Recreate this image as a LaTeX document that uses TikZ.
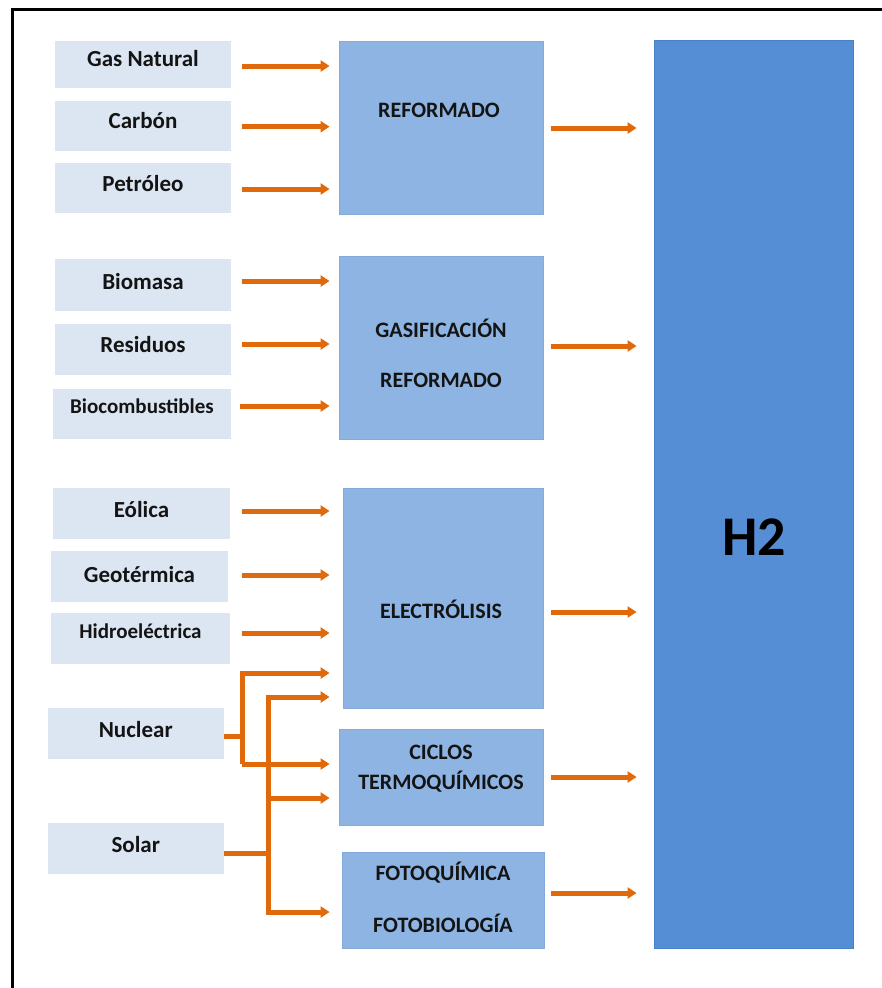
\documentclass[tikz,border=0pt]{standalone}
\usepackage{fontspec}
\setmainfont{Carlito}
\usetikzlibrary{arrows.meta}
\definecolor{srcfill}{HTML}{DCE6F2}
\definecolor{midfill}{HTML}{8EB4E3}
\definecolor{midedge}{HTML}{84AADB}
\definecolor{hfill}{HTML}{558ED5}
\definecolor{hedge}{HTML}{4A80C8}
\definecolor{orng}{HTML}{E2690A}
\definecolor{ink}{HTML}{141414}
\tikzset{
  srcbox/.style={rectangle, fill=srcfill, draw=none, inner sep=0pt},
  midbox/.style={rectangle, fill=midfill, draw=midedge, line width=0.8pt, inner sep=0pt},
  hbox/.style={rectangle, fill=hfill, draw=hedge, line width=0.8pt, inner sep=0pt},
  lbl/.style={anchor=base, inner sep=0pt, text=ink, font=\fontsize{22}{26}\selectfont\bfseries},
  lblsrc/.style={anchor=base, inner sep=0pt, text=ink, font=\fontsize{23}{27}\selectfont\bfseries},
  lblsm/.style={anchor=base, inner sep=0pt, text=ink, font=\fontsize{21}{24}\selectfont\bfseries},
  ln/.style={draw=orng, line width=5pt, line join=miter},
  arr/.style={ln, -{Triangle[length=9pt,width=11pt]}},
}
\begin{document}
\begin{tikzpicture}[x=1pt,y=-1pt]
\useasboundingbox (0,0) rectangle (881,988);
% frame
\draw[line width=3pt, black] (12,1010) -- (12,9) -- (900,9);

% source boxes
\node[srcbox, minimum width=176pt, minimum height=47pt] (gas)   at (143,64.5) {};
\node[srcbox, minimum width=176pt, minimum height=50pt] (carb)  at (143,126) {};
\node[srcbox, minimum width=176pt, minimum height=50pt] (petr)  at (143,188) {};
\node[srcbox, minimum width=176pt, minimum height=52pt] (biom)  at (143,285) {};
\node[srcbox, minimum width=176pt, minimum height=51pt] (resid) at (143,349.5) {};
\node[srcbox, minimum width=178pt, minimum height=50pt] (bioc)  at (142,414) {};
\node[srcbox, minimum width=177pt, minimum height=51pt] (eol)   at (141.5,513.5) {};
\node[srcbox, minimum width=177pt, minimum height=51pt] (geo)   at (139.5,576.5) {};
\node[srcbox, minimum width=179pt, minimum height=51pt] (hidro) at (140.5,638.5) {};
\node[srcbox, minimum width=176.5pt, minimum height=51pt] (nuc) at (135.75,733.5) {};
\node[srcbox, minimum width=176.5pt, minimum height=51pt] (sol) at (135.75,848.5) {};

\node[lblsrc] (gasT)   at (143,66) {Gas Natural};
\node[lblsrc] (carbT)  at (143,128) {Carbón};
\node[lblsrc] (petrT)  at (143,191) {Petróleo};
\node[lblsrc] (biomT)  at (143,289) {Biomasa};
\node[lblsrc] (residT) at (143,352) {Residuos};
\node[lblsm] (biocT) at (142,413) {Biocombustibles};
\node[lblsrc] (eolT)   at (141.5,517) {Eólica};
\node[lblsrc] (geoT)   at (139.5,582) {Geotérmica};
\node[lblsm] (hidroT) at (140.5,638) {Hidroeléctrica};
\node[lblsrc] (nucT)   at (135.75,737) {Nuclear};
\node[lblsrc] (solT)   at (135.75,852) {Solar};

% process boxes
\node[midbox, minimum width=204pt, minimum height=173pt] (refo)  at (441,127.5) {};
\node[midbox, minimum width=204pt, minimum height=183pt] (gasif) at (441,347.5) {};
\node[midbox, minimum width=200pt, minimum height=220pt] (elec)  at (443,598) {};
\node[midbox, minimum width=204pt, minimum height=96pt]  (cic)   at (441,777) {};
\node[midbox, minimum width=202pt, minimum height=96pt]  (foto)  at (443,900) {};

\node[lbl] (refoT)   at (439,117) {REFORMADO};
\node[lbl] (gasifT1) at (441,337) {GASIFICACIÓN};
\node[lbl] (gasifT2) at (441,387) {REFORMADO};
\node[lbl] (elecT)   at (441,618) {ELECTRÓLISIS};
\node[lbl] (cicT1)   at (441,759) {CICLOS};
\node[lbl] (cicT2)   at (441,789) {TERMOQUÍMICOS};
\node[lbl] (fotoT1)  at (443,880) {FOTOQUÍMICA};
\node[lbl] (fotoT2)  at (443,932) {FOTOBIOLOGÍA};

% H2
\node[hbox, minimum width=199pt, minimum height=908pt] (h2) at (753.5,494) {};
\node[anchor=base, inner sep=0pt, text=black, font=\fontsize{56}{60}\selectfont\bfseries] (h2T) at (754,555) {H2};

% input arrows
\draw[arr, shorten <=11pt, shorten >=9pt] ([yshift=-1.5pt]gas.east) -- ([yshift=-1.5pt]gas.east -| refo.west);
\draw[arr, shorten <=11pt, shorten >=9pt] ([yshift=-0.7pt]carb.east) -- ([yshift=-0.7pt]carb.east -| refo.west);
\draw[arr, shorten <=11pt, shorten >=9pt] ([yshift=-1pt]petr.east) -- ([yshift=-1pt]petr.east -| refo.west);
\draw[arr, shorten <=11pt, shorten >=9pt] ([yshift=4pt]biom.east) -- ([yshift=4pt]biom.east -| gasif.west);
\draw[arr, shorten <=11pt, shorten >=9pt] ([yshift=5.5pt]resid.east) -- ([yshift=5.5pt]resid.east -| gasif.west);
\draw[arr, shorten <=9pt, shorten >=9pt] ([yshift=8pt]bioc.east) -- ([yshift=8pt]bioc.east -| gasif.west);
\draw[arr, shorten <=12pt, shorten >=13pt] ([yshift=2.5pt]eol.east) -- ([yshift=2.5pt]eol.east -| elec.west);
\draw[arr, shorten <=14pt, shorten >=13pt] ([yshift=1.5pt]geo.east) -- ([yshift=1.5pt]geo.east -| elec.west);
\draw[arr, shorten <=12pt, shorten >=13pt] ([yshift=5.5pt]hidro.east) -- ([yshift=5.5pt]hidro.east -| elec.west);

% nuclear branches
\coordinate (nA) at (242,673);
\coordinate (nB) at (242,764);
\draw[ln] ([yshift=-2.5pt]nuc.east) -- ([yshift=-2.5pt]nuc.east -| nA);
\draw[arr, shorten >=13pt] (nB) -- (nA) -- (nA -| elec.west);
\draw[arr, shorten >=9pt] (nB) -- (nB -| cic.west);

% solar branches
\coordinate (sA) at (268,697);
\coordinate (sB) at (268,798);
\coordinate (sC) at (268,912);
\draw[ln] ([yshift=-4.5pt]sol.east) -- ([yshift=-4.5pt]sol.east -| sB);
\draw[arr, shorten >=13pt] (sC) -- (sA) -- (sA -| elec.west);
\draw[arr, shorten >=12pt] (sA) -- (sC) -- (sC -| foto.west);
\draw[arr, shorten >=9pt] (sB) -- (sB -| cic.west);

% output arrows
\draw[arr, shorten <=8pt, shorten >=17pt] ([yshift=-0.5pt]refo.east) -- ([yshift=-0.5pt]refo.east -| h2.west);
\draw[arr, shorten <=8pt, shorten >=17pt] ([yshift=1.5pt]gasif.east) -- ([yshift=1.5pt]gasif.east -| h2.west);
\draw[arr, shorten <=8pt, shorten >=17pt] ([yshift=-14pt]elec.east) -- ([yshift=-14pt]elec.east -| h2.west);
\draw[arr, shorten <=8pt, shorten >=17pt] (cic.east) -- (cic.east -| h2.west);
\draw[arr, shorten <=7pt, shorten >=17pt] ([yshift=7pt]foto.east) -- ([yshift=7pt]foto.east -| h2.west);
\end{tikzpicture}
\end{document}
